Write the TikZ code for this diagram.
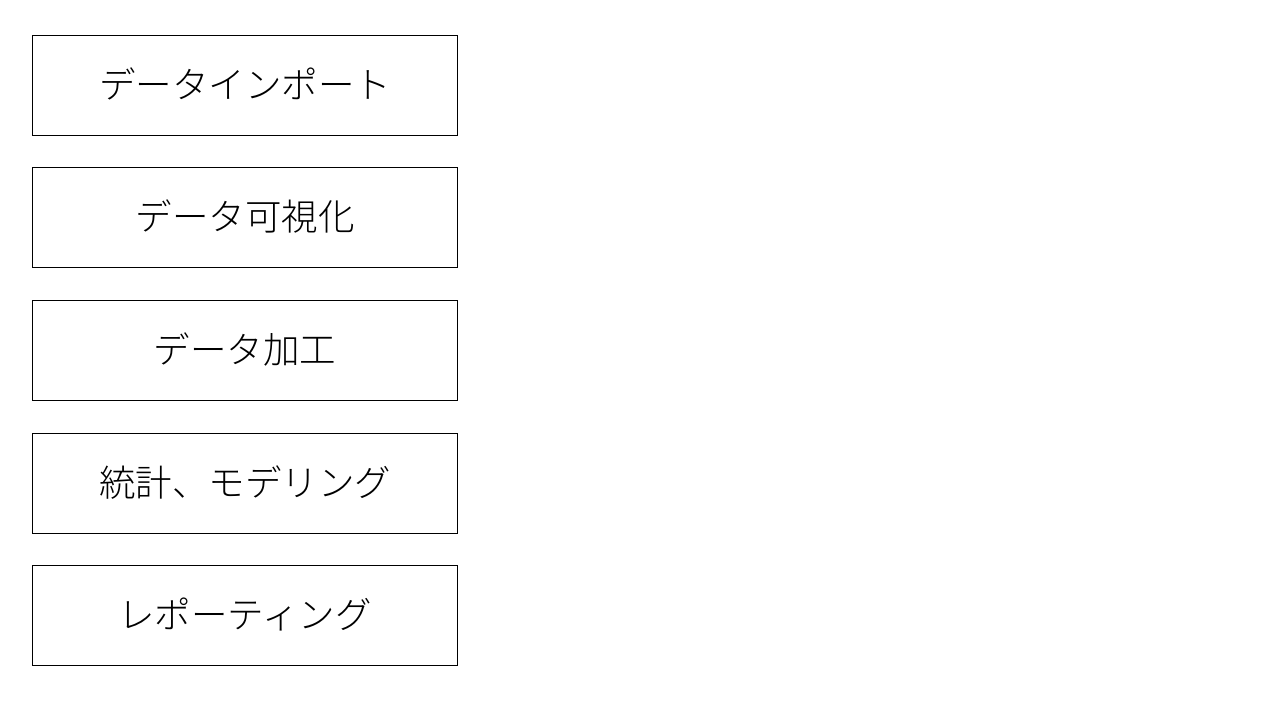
\documentclass[tikz,border=0pt]{standalone}
\usepackage{fontspec}
\newfontfamily\cjk{Noto Sans CJK JP Light}
\begin{document}
\begin{tikzpicture}[x=1pt,y=-1pt,
  stepbox/.style={draw=black,line width=0.9pt,minimum width=425pt,minimum height=100pt,inner sep=0pt,text depth=0pt,font=\cjk\fontsize{36.5}{40}\selectfont}]
\useasboundingbox[fill=white] (0,0) rectangle (1280,720);
\node[stepbox] (b1) at (245,85) {\raisebox{4.5pt}{データインポート}};
\node[stepbox] (b2) at (245,217.5) {\raisebox{4.5pt}{データ可視化}};
\node[stepbox] (b3) at (245,350) {\raisebox{4.5pt}{データ加工}};
\node[stepbox] (b4) at (245,483) {\raisebox{4.5pt}{統計、モデリング}};
\node[stepbox] (b5) at (245,615.5) {\raisebox{4.5pt}{レポーティング}};
\end{tikzpicture}
\end{document}
